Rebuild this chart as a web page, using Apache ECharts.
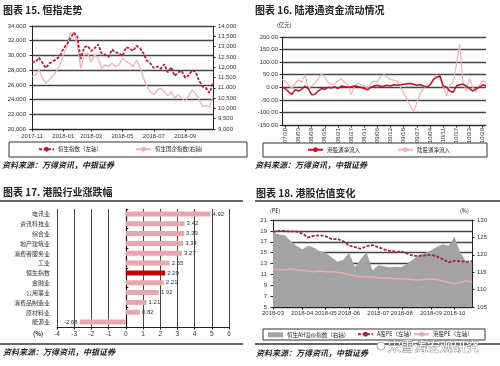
<!DOCTYPE html>
<html><head><meta charset="utf-8">
<script src="https://cdn.jsdelivr.net/npm/echarts/dist/echarts.min.js"></script>
<style>html,body{margin:0;padding:0;background:#fff}#c{width:500px;height:366px}</style>
</head><body><div id="c"></div>
<script>
// ---------- Chart 15: 恒指走势 ----------
const hsiDates = ['2017-11-03','2017-11-10','2017-11-17','2017-11-24','2017-12-01','2017-12-08','2017-12-15','2017-12-22','2017-12-29',
 '2018-01-05','2018-01-12','2018-01-19','2018-01-26','2018-02-02','2018-02-09','2018-02-16','2018-02-23',
 '2018-03-02','2018-03-09','2018-03-16','2018-03-23','2018-03-30','2018-04-06','2018-04-13','2018-04-20','2018-04-27',
 '2018-05-04','2018-05-11','2018-05-18','2018-05-25','2018-06-01','2018-06-08','2018-06-15','2018-06-22','2018-06-29',
 '2018-07-06','2018-07-13','2018-07-20','2018-07-27','2018-08-03','2018-08-10','2018-08-17','2018-08-24','2018-08-31',
 '2018-09-07','2018-09-14','2018-09-21','2018-09-28','2018-10-05','2018-10-12','2018-10-19','2018-10-26','2018-11-02'];
const hsiValues = [29200,29100,29700,29000,28300,28900,29200,29500,29900,
 30900,31500,32300,33100,32600,29500,31100,31300,
 30600,30990,31500,30300,30100,29800,30800,30400,30300,
 29900,31100,31000,30600,31300,31000,30300,29300,28900,
 28300,28500,28200,28800,27700,28400,27200,27700,27900,
 26970,27300,27950,27790,26570,25800,25560,24900,26300];
const hsceiValues = [11550,11630,11870,11470,11230,11390,11580,11790,12110,
 12600,13000,13650,13680,13080,11950,12600,12680,
 12270,12600,12440,11950,12110,12030,12190,12030,12110,
 12440,12270,12190,12030,12350,12030,11470,11060,10820,
 10660,10900,10980,10820,10610,10820,10500,10660,10500,
 10340,10580,10900,10740,10420,10100,10130,10060,10580];
const hsiTicks = ['2017-11','2018-01','2018-03','2018-05','2018-07','2018-09'];

// ---------- Chart 16: 陆港通资金流动情况 ----------
const flowTicks = ['07/30','08/03','08/09','08/15','08/21','08/27','08/31','09/06','09/12','09/18','09/27','10/04','10/11','10/17','10/23','10/29'];
const southFlow = [0,-5,-18,-28,-10,-15,-8,5,-5,-30,
 -28,-15,-5,-8,0,-3,2,-5,5,3,
 0,2,5,3,0,-5,-10,0,5,8,
 3,5,8,5,10,8,10,12,14,15,
 12,8,10,5,0,10,30,40,45,5,
 0,-15,-20,5,10,12,5,-5,-15,-5,
 0,10,5];
const northFlow = [30,25,10,-5,15,30,20,50,-5,5,
 15,35,55,40,20,10,15,25,35,20,
 10,-30,5,15,10,5,-5,15,25,20,
 45,50,40,32,28,25,null,null,null,null,
 -98,-60,-25,-5,10,5,35,50,30,5,
 -35,10,20,90,172,20,-15,35,0,-20,
 10,25,20];

// ---------- Chart 17: 港股行业涨跌幅 ----------
const industries = ['电讯业','资讯科技业','综合业','地产建筑业','消费者服务业','工业','恒生指数','金融业','公用事业','消费品制造业','原材料业','能源业'];
const industryChange = [4.92,3.42,3.39,3.34,3.27,2.55,2.29,2.21,1.92,1.21,0.82,-2.68];

// ---------- Chart 18: 港股估值变化 ----------
const peDates = ['2018-03-02','2018-03-09','2018-03-16','2018-03-23','2018-03-30','2018-04-06','2018-04-13','2018-04-20','2018-04-27',
 '2018-05-04','2018-05-11','2018-05-18','2018-05-25','2018-06-01','2018-06-08','2018-06-15','2018-06-22','2018-06-29',
 '2018-07-06','2018-07-13','2018-07-20','2018-07-27','2018-08-03','2018-08-10','2018-08-17','2018-08-24','2018-08-31',
 '2018-09-07','2018-09-14','2018-09-21','2018-09-28','2018-10-05','2018-10-12','2018-10-19','2018-10-26'];
const ahPremium = [126.4,125.8,125.6,124,122.6,121.6,122.6,122,121,120.6,
 119.3,118,118.5,120.6,116.5,118.8,120.7,115.5,117,116.7,
 116.4,116.6,116.5,117.5,118.8,120,120.5,121.2,122.3,123,
 122.6,125.2,120.7,118,117.8];
const aSharePE = [18.8,19.0,19.0,18.9,18.9,18.5,17.8,18.1,18.2,18.0,
 17.5,17.5,17.1,16.3,16.0,15.7,16.2,16.4,16.0,15.6,
 15.3,15.2,15.2,14.8,14.4,14.4,14.5,14.6,14.3,13.8,
 13.2,13.5,13.4,13.3,13.5];
const hkPE = [11.9,11.9,11.8,12.0,11.8,11.7,11.6,11.5,11.6,11.5,
 11.5,11.4,11.2,11.0,10.7,10.6,10.5,10.5,10.4,10.3,
 10.3,10.2,10.2,10.1,10.0,9.9,10.1,10.2,10.0,9.8,
 9.5,9.3,9.5,9.8,9.6];
const peTicks = ['2018-03','2018-04','2018-05','2018-06','2018-07','2018-08','2018-09','2018-10'];

// ---------- helpers ----------
const FONT = '"Liberation Sans","Noto Sans CJK SC",sans-serif';
const CJK = '"Noto Sans CJK SC",sans-serif';
const GRIDC = '#454545';
const DARKRED = '#a8233f';
const PINK = '#eeb2ba';
function firstIdx(dates, ticks){ return ticks.map(t => dates.findIndex(d => d.startsWith(t))); }
const hsiTickIdx = firstIdx(hsiDates, hsiTicks);
const peTickIdx = firstIdx(peDates, peTicks);
const flowCats = southFlow.map((v,i) => 'd' + i);
const flowTickIdx = flowTicks.map((t,k) => 1 + 4*k);
const comma = v => v.toLocaleString('en-US');
const lab = {fontSize: 6, color: '#333', fontFamily: FONT};
const axLine = {show: true, onZero: false, lineStyle: {color: '#222', width: 1}};
const tick = {show: true, length: 2.5, lineStyle: {color: '#222'}};
const split = {show: true, lineStyle: {color: GRIDC, width: 1.3}};

const chart = echarts.init(document.getElementById('c'), null, {renderer: 'canvas'});

const txt = (x, y, s, size, extra) => Object.assign({type: 'text', x: x, y: y, style: Object.assign({text: s, fontSize: size, fontFamily: CJK, fill: '#222', textVerticalAlign: 'middle'}, extra || {})});
const hline = (x1, x2, y, w) => ({type: 'line', shape: {x1: x1, y1: y, x2: x2, y2: y}, style: {stroke: '#333', lineWidth: w || 1.2}});
const box = (x, y, w, h) => ({type: 'rect', shape: {x: x, y: y, width: w, height: h}, style: {fill: 'none', stroke: '#333', lineWidth: 1}});

const legItem = (name, left, top, extra) => Object.assign({
  data: [name], left: left, top: top, padding: 0, itemWidth: 15, itemHeight: 6, itemGap: 0,
  textStyle: {fontSize: 5.5, color: '#222', fontFamily: CJK, padding: [0,0,0,-1]}, selectedMode: false
}, extra || {});

chart.setOption({
  animation: false,
  textStyle: {fontFamily: FONT},
  grid: [
    {left: 32, top: 26, width: 181, height: 103},
    {left: 282, top: 37, width: 204, height: 88},
    {left: 57, top: 209, width: 172, height: 118},
    {left: 273, top: 220, width: 199, height: 87}
  ],
  legend: [
    legItem('恒生指数（左轴）', 38, 146.5),
    legItem('恒生国企指数(右轴)', 135, 146.5),
    legItem('港股通净流入', 307, 147),
    legItem('陆股通净流入', 397, 147),
    legItem({name: '恒生AH溢价指数（右轴）', icon: 'rect'}, 268, 332, {itemHeight: 5}),
    legItem('A股PE（左轴）', 357, 331.5),
    legItem('港股PE（左轴）', 413, 331.5)
  ],
  xAxis: [
    {gridIndex: 0, type: 'category', data: hsiDates, boundaryGap: false, axisLine: axLine,
     axisTick: Object.assign({}, tick, {interval: i => hsiTickIdx.includes(i)}),
     axisLabel: Object.assign({}, lab, {margin: 4, interval: i => hsiTickIdx.includes(i), formatter: v => v.slice(0,7)}),
     splitLine: {show: false}},
    {gridIndex: 1, type: 'category', data: flowCats, boundaryGap: false, axisLine: axLine,
     axisTick: Object.assign({}, tick, {interval: i => flowTickIdx.includes(i)}),
     axisLabel: Object.assign({}, lab, {rotate: 90, margin: 3, interval: i => flowTickIdx.includes(i),
       formatter: (v, i) => flowTicks[flowTickIdx.indexOf(i)] || ''}),
     splitLine: {show: false}},
    {gridIndex: 2, type: 'value', min: -4, max: 6, interval: 1, axisLine: axLine, axisTick: tick,
     axisLabel: Object.assign({}, lab, {fontSize: 6.5, margin: 4}),
     splitLine: {show: true, lineStyle: {color: GRIDC, width: 1}}},
    {gridIndex: 3, type: 'category', data: peDates, boundaryGap: false, axisLine: axLine,
     axisTick: Object.assign({}, tick, {interval: i => peTickIdx.includes(i)}),
     axisLabel: Object.assign({}, lab, {margin: 3, interval: i => peTickIdx.includes(i), formatter: v => v.slice(0,7)}),
     splitLine: {show: false}}
  ],
  yAxis: [
    {gridIndex: 0, type: 'value', min: 20000, max: 34000, interval: 2000, axisLine: axLine, axisTick: tick,
     axisLabel: Object.assign({}, lab, {margin: 6, formatter: comma}), splitLine: split},
    {gridIndex: 0, type: 'value', position: 'right', min: 9000, max: 14000, interval: 500, axisLine: axLine, axisTick: tick,
     axisLabel: Object.assign({}, lab, {margin: 5, formatter: comma}), splitLine: {show: false}},
    {gridIndex: 1, type: 'value', min: -150, max: 200, interval: 50, axisLine: axLine, axisTick: tick,
     axisLabel: Object.assign({}, lab, {margin: 4, formatter: v => v.toFixed(2)}), splitLine: split},
    {gridIndex: 2, type: 'category', data: industries, inverse: true,
     axisLine: {show: false, onZero: false}, axisTick: {show: false},
     axisLabel: Object.assign({}, lab, {fontFamily: CJK, margin: 7}), splitLine: {show: false}},
    {gridIndex: 2, type: 'category', data: industries, inverse: true,
     axisLine: {show: true, onZero: true, lineStyle: {color: '#111', width: 1.2}}, axisTick: {show: true, length: 2.5, lineStyle: {color: '#111'}},
     axisLabel: {show: false}, splitLine: {show: false}},
    {gridIndex: 3, type: 'value', min: 5, max: 21, interval: 2, axisLine: axLine, axisTick: tick,
     axisLabel: Object.assign({}, lab, {margin: 6}), splitLine: split},
    {gridIndex: 3, type: 'value', position: 'right', min: 105, max: 130, interval: 5, axisLine: axLine, axisTick: tick,
     axisLabel: Object.assign({}, lab, {margin: 5}), splitLine: {show: false}}
  ],
  series: [
    {name: '恒生指数（左轴）', type: 'line', xAxisIndex: 0, yAxisIndex: 0, data: hsiValues, symbol: 'none', z: 3,
     lineStyle: {color: DARKRED, width: 1.8, type: [3, 1.5]}, itemStyle: {color: DARKRED}},
    {name: '恒生国企指数(右轴)', type: 'line', xAxisIndex: 0, yAxisIndex: 1, data: hsceiValues, symbol: 'none', z: 2,
     lineStyle: {color: PINK, width: 1.3}, itemStyle: {color: PINK}},
    {name: '港股通净流入', type: 'line', xAxisIndex: 1, yAxisIndex: 2, data: southFlow, symbol: 'none', z: 3,
     lineStyle: {color: '#b8162e', width: 1.5}, itemStyle: {color: '#b8162e'}},
    {name: '陆股通净流入', type: 'line', xAxisIndex: 1, yAxisIndex: 2, data: northFlow, symbol: 'none', connectNulls: true, z: 2,
     lineStyle: {color: PINK, width: 1.2}, itemStyle: {color: PINK}},
    {name: '行业涨跌幅', type: 'bar', xAxisIndex: 2, yAxisIndex: 3, barWidth: 5,
     data: industryChange.map((v, i) => ({value: v,
       itemStyle: {color: industries[i] === '恒生指数' ? '#c00000' : '#e6a7ae'},
       label: {position: v < 0 ? 'left' : 'right'}})),
     label: {show: true, fontSize: 6, color: '#333', distance: 2, formatter: p => p.value.toFixed(2)}},
    {name: '恒生AH溢价指数（右轴）', type: 'line', xAxisIndex: 3, yAxisIndex: 6, data: ahPremium, symbol: 'none', z: 1,
     lineStyle: {width: 0, color: '#a3a3a3'}, itemStyle: {color: '#a3a3a3'}, areaStyle: {color: '#a3a3a3', opacity: 1}},
    {name: 'A股PE（左轴）', type: 'line', xAxisIndex: 3, yAxisIndex: 5, data: aSharePE, symbol: 'none', z: 3,
     lineStyle: {color: DARKRED, width: 1.8, type: [3, 1.5]}, itemStyle: {color: DARKRED}},
    {name: '港股PE（左轴）', type: 'line', xAxisIndex: 3, yAxisIndex: 5, data: hkPE, symbol: 'none', z: 2,
     lineStyle: {color: '#eaa8b0', width: 1.5}, itemStyle: {color: '#eaa8b0'}}
  ],
  graphic: [
    txt(3, 10, '图表 15. 恒指走势', 10, {fontWeight: 'bold'}),
    txt(255, 10, '图表 16. 陆港通资金流动情况', 10, {fontWeight: 'bold'}),
    txt(3, 192, '图表 17. 港股行业涨跌幅', 10, {fontWeight: 'bold'}),
    txt(256, 193, '图表 18. 港股估值变化', 10, {fontWeight: 'bold'}),
    txt(2, 165, '资料来源：万得资讯，中银证券', 8, {fontWeight: 'bold', fontStyle: 'italic'}),
    txt(255, 165, '资料来源：万得资讯，中银证券', 8, {fontWeight: 'bold', fontStyle: 'italic'}),
    txt(3, 352, '资料来源：万得资讯，中银证券', 8, {fontWeight: 'bold', fontStyle: 'italic'}),
    txt(256, 353, '资料来源：万得资讯，中银证券', 8, {fontWeight: 'bold', fontStyle: 'italic'}),
    txt(277, 25, '(亿元)', 5.5),
    txt(270, 211, '(PE)', 5.5),
    txt(460, 211, '(%)', 5.5),
    txt(33, 334, '(%)', 6, {fontWeight: 'bold'}),
    box(9, 142, 238, 15),
    box(263, 143, 224, 14),
    box(263, 329, 222, 11),
    hline(0, 243, 201, 1.3),
    hline(255, 500, 201, 1.3),
    hline(0, 243, 344, 1.3),
    hline(255, 500, 344, 1.3),
    {type: 'circle', shape: {cx: 381, cy: 346, r: 4}, style: {fill: '#fff', stroke: '#999', lineWidth: 0.8}},
    txt(388, 346, '宋雪涛宏观研究', 13, {fill: '#fff', stroke: '#8a8a8a', lineWidth: 0.8})
  ]
});
</script></body></html>
